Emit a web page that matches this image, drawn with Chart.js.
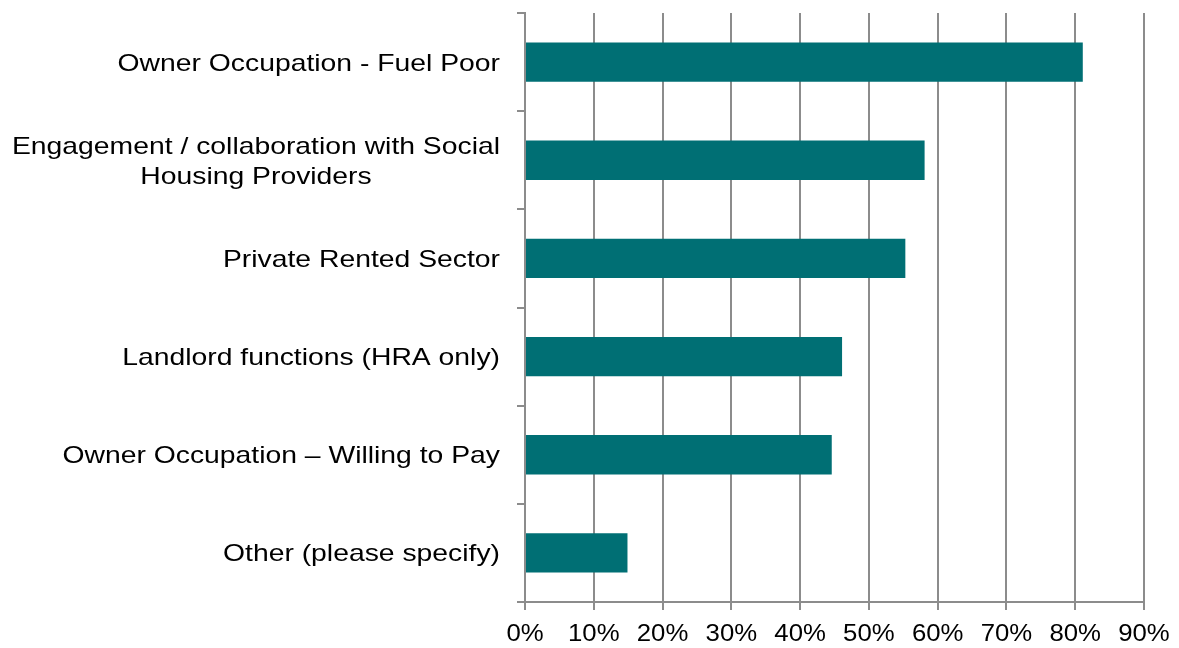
<!DOCTYPE html>
<html>
<head>
<meta charset="utf-8">
<title>Housing areas</title>
<script src="https://cdn.jsdelivr.net/npm/chart.js@4/dist/chart.umd.min.js"></script>
<style>
  html, body { margin: 0; padding: 0; background: #fff; }
  #wrap { width: 1179px; height: 648px; position: relative; }
</style>
</head>
<body>
<div id="wrap"><canvas id="chart"></canvas></div>
<script>
// categories (top to bottom) and share of respondents
const categories = [
    'Owner Occupation - Fuel Poor',
    ['Engagement / collaboration with Social', 'Housing Providers'],
    'Private Rented Sector',
    'Landlord functions (HRA only)',
    'Owner Occupation \u2013 Willing to Pay',
    'Other (please specify)'
];
const shares = [81.1, 58.1, 55.3, 46.1, 44.6, 14.9];
const axisMax = 90;
const axisStep = 10;

const barColor = '#006F74';
const lineColor = '#8C8C8C';
const fontFamily = '"Liberation Sans", Arial, sans-serif';

// the source text is drawn a little wider than plain Arial, so stretch it
function drawWide(ctx, text, x, y, sx) {
    ctx.save();
    ctx.translate(x, y);
    ctx.scale(sx, 1);
    ctx.textAlign = 'center';
    ctx.fillText(text, 0, 0);
    ctx.restore();
}

const wideLabels = {
    id: 'wideLabels',
    afterDraw: function(chart) {
        const ctx = chart.ctx;
        const ys = chart.scales.y;
        const xs = chart.scales.x;
        ctx.save();
        ctx.fillStyle = '#000';
        ctx.textBaseline = 'alphabetic';

        // category labels, right aligned, multi line blocks centred
        ctx.font = '24px ' + fontFamily;
        const sxY = 1.18;
        ys.ticks.forEach(function(t, i) {
            const lines = [].concat(categories[i]);
            const cy = ys.getPixelForTick(i);
            const maxW = Math.max.apply(null, lines.map(l => ctx.measureText(l).width * sxY));
            const right = ys.right - 25;
            lines.forEach(function(l, j) {
                const ly = cy + (j - (lines.length - 1) / 2) * 30 + 8.5;
                drawWide(ctx, l, right - maxW / 2, ly, sxY);
            });
        });

        // percentage labels under the axis
        ctx.font = '23px ' + fontFamily;
        xs.ticks.forEach(function(t, i) {
            drawWide(ctx, t.label, xs.getPixelForTick(i), xs.top + 39, 1.12);
        });
        ctx.restore();
    }
};

new Chart(document.getElementById('chart'), {
    type: 'bar',
    data: {
        labels: categories,
        datasets: [{
            data: shares,
            backgroundColor: barColor,
            borderWidth: 0,
            categoryPercentage: 1,
            barPercentage: 0.4
        }]
    },
    options: {
        indexAxis: 'y',
        responsive: true,
        maintainAspectRatio: false,
        animation: false,
        layout: { padding: { top: 13, right: 35, left: 10, bottom: 0 } },
        plugins: {
            legend: { display: false },
            tooltip: { enabled: false }
        },
        scales: {
            x: {
                min: 0,
                max: axisMax,
                afterFit: function(scale) { scale.height = 46; },
                ticks: {
                    stepSize: axisStep,
                    color: 'rgba(0,0,0,0)',
                    font: { size: 23, family: fontFamily },
                    callback: function(v) { return v + '%'; }
                },
                grid: {
                    color: lineColor,
                    lineWidth: 2,
                    tickLength: 8
                },
                border: { display: true, color: lineColor, width: 2 }
            },
            y: {
                afterFit: function(scale) { scale.width = 515; },
                ticks: {
                    // drawn by wideLabels; kept small so it adds no top padding
                    color: 'rgba(0,0,0,0)',
                    font: { size: 8, family: fontFamily }
                },
                grid: {
                    offset: true,
                    drawOnChartArea: false,
                    color: lineColor,
                    lineWidth: 2,
                    tickLength: 8
                },
                border: { display: true, color: lineColor, width: 2 }
            }
        }
    },
    plugins: [wideLabels]
});
</script>
</body>
</html>
